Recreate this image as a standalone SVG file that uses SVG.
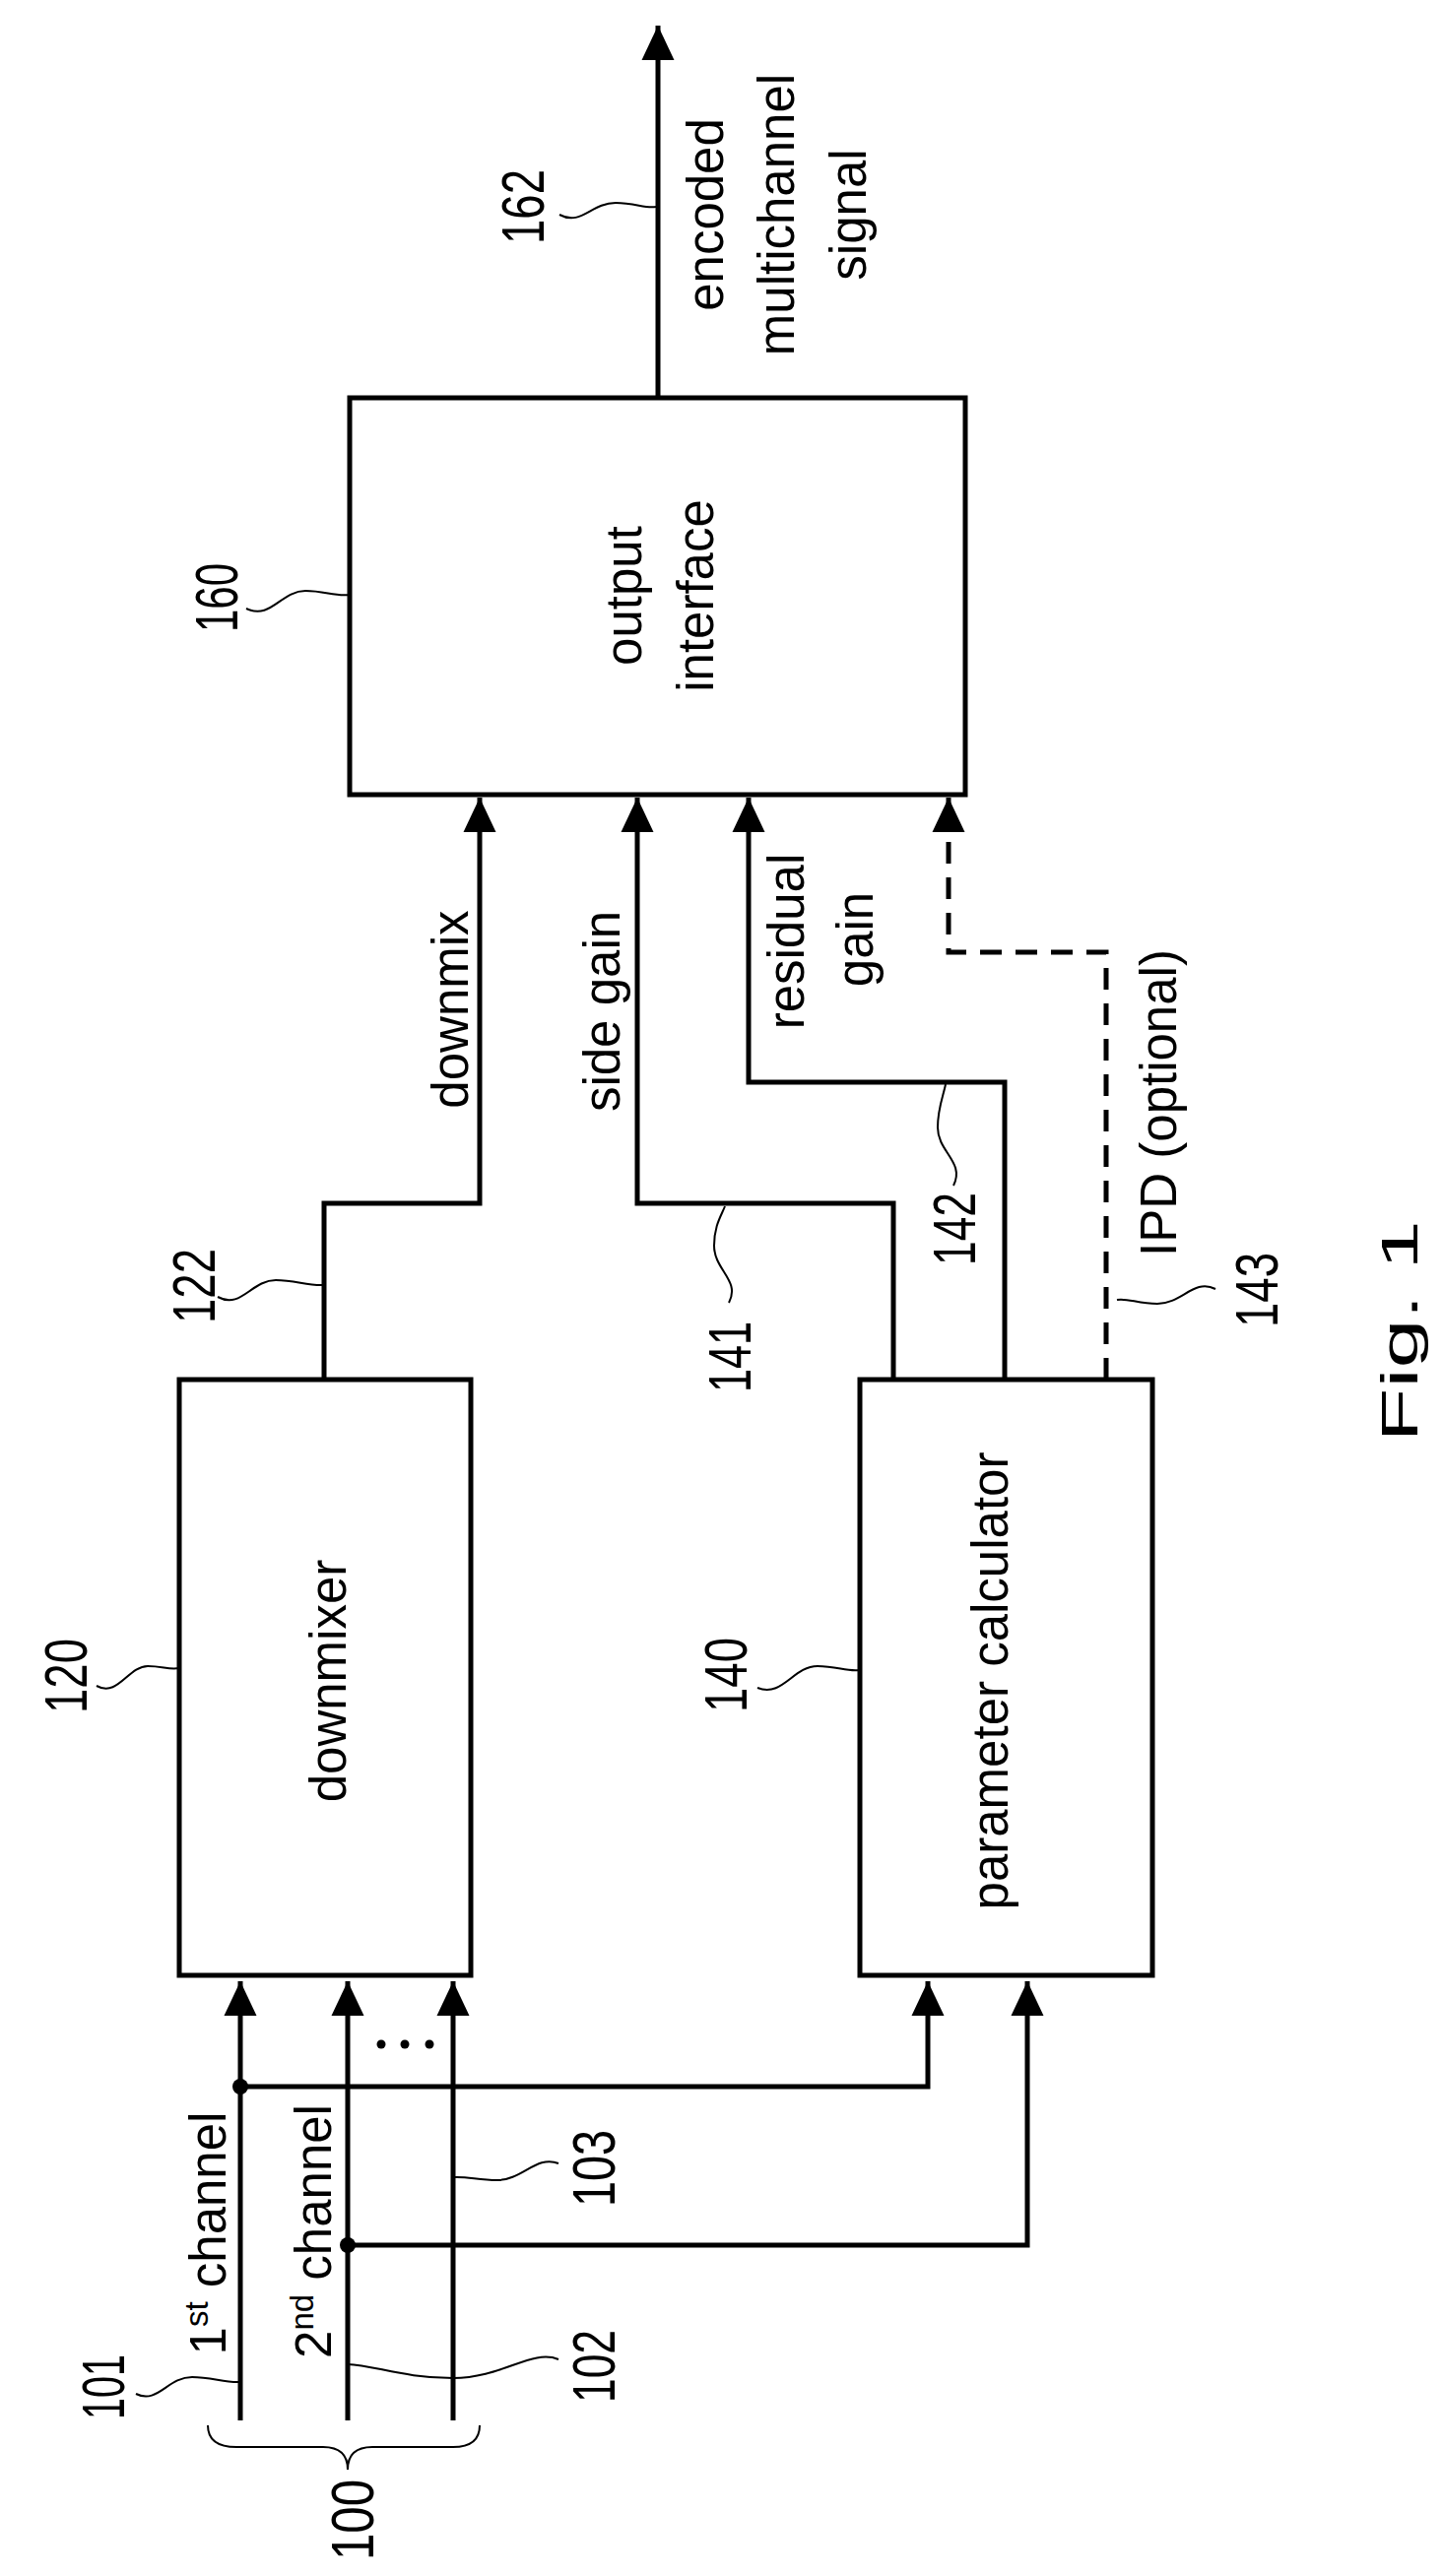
<svg xmlns="http://www.w3.org/2000/svg" width="1465" height="2616" viewBox="0 0 1465 2616">
<style>
.b{fill:#fff;stroke:#000;stroke-width:5}
.l{fill:none;stroke:#000;stroke-width:5}
.d{fill:none;stroke:#000;stroke-width:5;stroke-dasharray:22,14}
.w{fill:none;stroke:#000;stroke-width:2}
text{font-family:"Liberation Sans",Arial,sans-serif;font-size:51px;text-anchor:middle;fill:#000}
.n{font-size:62px}
</style>
<defs>
<marker id="a" markerWidth="8" markerHeight="8" refX="7" refY="4" orient="auto" markerUnits="strokeWidth"><path d="M0,0.7 L7,4 L0,7.3 Z" fill="#000"/></marker>
</defs>
<rect width="1465" height="2616" fill="#fff"/>
<g id="connectors">
<path class="l" d="M668,404 V26" marker-end="url(#a)"/>
<path class="l" d="M329,1401 V1222 H487 V810" marker-end="url(#a)"/>
<path class="l" d="M907,1401 V1222 H647 V810" marker-end="url(#a)"/>
<path class="l" d="M1020,1401 V1099 H760 V810" marker-end="url(#a)"/>
<path class="d" d="M1123,1401 V967 H963 V830"/>
<path class="l" d="M963,840 V810" marker-end="url(#a)"/>
<path class="l" d="M244,2458 V2012" marker-end="url(#a)"/>
<path class="l" d="M353,2458 V2012" marker-end="url(#a)"/>
<path class="l" d="M460,2458 V2012" marker-end="url(#a)"/>
<path class="l" d="M244,2119 H942 V2012" marker-end="url(#a)"/>
<path class="l" d="M353,2280 H1043 V2012" marker-end="url(#a)"/>
<circle cx="244" cy="2119" r="8"/>
<circle cx="353" cy="2280" r="8"/>
<circle cx="387" cy="2076" r="4.5"/><circle cx="411" cy="2076" r="4.5"/><circle cx="436" cy="2076" r="4.5"/>
<path class="w" d="M211,2463 Q211,2485 240,2485 L328,2485 Q353,2485 353,2508 Q353,2485 378,2485 L460,2485 Q487,2485 487,2463"/>
</g>
<g id="n160">
<rect class="b" x="355" y="404" width="625" height="403"/>
<text transform="rotate(-90 633 605)" x="633" y="623">output</text>
<text transform="rotate(-90 706 605)" x="706" y="623">interface</text>
<text class="n" transform="rotate(-90 219 607)" x="219" y="629" textLength="70" lengthAdjust="spacingAndGlyphs">160</text>
<path class="w" d="M250,618 C275,630 285,600 310,600 C330,600 340,606 355,604"/>
</g>
<g id="n162">
<text transform="rotate(-90 716 218)" x="716" y="236">encoded</text>
<text transform="rotate(-90 788 218)" x="788" y="236">multichannel</text>
<text transform="rotate(-90 861 218)" x="861" y="236">signal</text>
<text class="n" transform="rotate(-90 530 210)" x="530" y="232" textLength="76" lengthAdjust="spacingAndGlyphs">162</text>
<path class="w" d="M568,218 C590,230 600,206 625,206 C645,206 655,212 666,210"/>
</g>
<g id="n120">
<rect class="b" x="182" y="1401" width="296" height="605"/>
<text transform="rotate(-90 333 1707)" x="333" y="1725">downmixer</text>
<text class="n" transform="rotate(-90 66 1702)" x="66" y="1724" textLength="76" lengthAdjust="spacingAndGlyphs">120</text>
<path class="w" d="M98,1712 C120,1724 130,1692 150,1692 C165,1692 172,1696 182,1694"/>
</g>
<g id="n140">
<rect class="b" x="873" y="1401" width="297" height="605"/>
<text transform="rotate(-90 1005 1707)" x="1005" y="1725">parameter calculator</text>
<text class="n" transform="rotate(-90 736 1701)" x="736" y="1723" textLength="76" lengthAdjust="spacingAndGlyphs">140</text>
<path class="w" d="M769,1714 C795,1724 805,1692 830,1692 C850,1692 860,1698 873,1696"/>
</g>
<g id="labels">
<text transform="rotate(-90 457 1025)" x="457" y="1043">downmix</text>
<text transform="rotate(-90 611 1027)" x="611" y="1045">side gain</text>
<text transform="rotate(-90 798 956)" x="798" y="974">residual</text>
<text transform="rotate(-90 868 954)" x="868" y="972">gain</text>
<text transform="rotate(-90 1176 1120)" x="1176" y="1138">IPD (optional)</text>
<text class="n" transform="rotate(-90 196 1306)" x="196" y="1328" textLength="76" lengthAdjust="spacingAndGlyphs">122</text>
<path class="w" d="M221,1317 C245,1330 255,1300 280,1300 C300,1300 312,1306 329,1305"/>
<text class="n" transform="rotate(-90 740 1378)" x="740" y="1400" textLength="72" lengthAdjust="spacingAndGlyphs">141</text>
<path class="w" d="M740,1323 C752,1300 725,1290 725,1265 C725,1245 732,1235 736,1225"/>
<text class="n" transform="rotate(-90 968 1248)" x="968" y="1270" textLength="74" lengthAdjust="spacingAndGlyphs">142</text>
<path class="w" d="M968,1204 C980,1180 952,1170 952,1145 C952,1125 958,1112 960,1101"/>
<text class="n" transform="rotate(-90 1275 1310)" x="1275" y="1332" textLength="76" lengthAdjust="spacingAndGlyphs">143</text>
<path class="w" d="M1234,1309 C1212,1298 1200,1324 1175,1324 C1155,1324 1145,1318 1134,1320"/>
<text transform="rotate(-90 211 2268)" x="211" y="2286">1<tspan font-size="33" baseline-shift="super">st</tspan> channel</text>
<text transform="rotate(-90 318 2266)" x="318" y="2284">2<tspan font-size="33" baseline-shift="super">nd</tspan> channel</text>
<text class="n" transform="rotate(-90 104 2424)" x="104" y="2446" textLength="66" lengthAdjust="spacingAndGlyphs">101</text>
<path class="w" d="M138,2431 C160,2442 170,2414 195,2414 C215,2414 228,2420 244,2419"/>
<text class="n" transform="rotate(-90 602 2403)" x="602" y="2425" textLength="74" lengthAdjust="spacingAndGlyphs">102</text>
<path class="w" d="M567,2396 C540,2385 510,2415 460,2415 C410,2415 380,2402 353,2401"/>
<text class="n" transform="rotate(-90 602 2202)" x="602" y="2224" textLength="78" lengthAdjust="spacingAndGlyphs">103</text>
<path class="w" d="M567,2197 C545,2188 530,2214 505,2214 C485,2214 475,2210 460,2211"/>
<text class="n" transform="rotate(-90 357 2559)" x="357" y="2581" textLength="82" lengthAdjust="spacingAndGlyphs">100</text>
<text transform="rotate(-90 1398 1352)" x="1398" y="1393" font-size="115" textLength="225" lengthAdjust="spacingAndGlyphs">Fig. 1</text>
</g>
</svg>
